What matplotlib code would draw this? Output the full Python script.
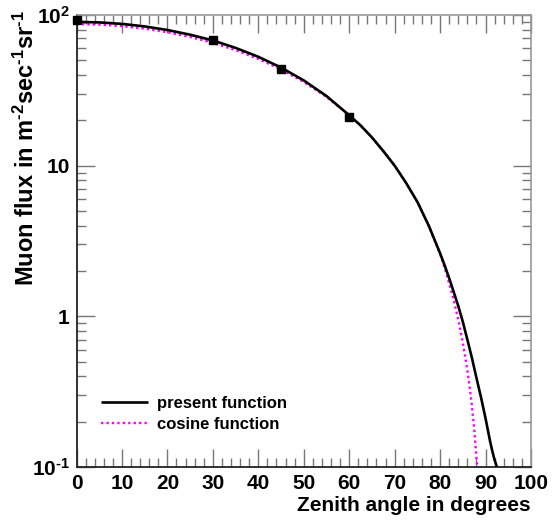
import matplotlib
matplotlib.use("Agg")
import matplotlib.pyplot as plt
from matplotlib.ticker import FixedLocator, NullFormatter, MultipleLocator

plt.rcParams["font.family"] = ["Liberation Sans", "DejaVu Sans"]
plt.rcParams["font.weight"] = "bold"
plt.rcParams["axes.labelweight"] = "bold"
plt.rcParams["mathtext.fontset"] = "custom"
plt.rcParams["mathtext.rm"] = "Liberation Sans:bold"
plt.rcParams["mathtext.it"] = "Liberation Sans:bold"
plt.rcParams["mathtext.bf"] = "Liberation Sans:bold"

# Zenith angle (degrees) and flux (m^-2 s^-1 sr^-1)
present_angle = [0, 5, 10, 15, 20, 25, 30, 35, 40, 45, 50, 55, 60, 62.5, 65, 67.5, 70,
                 72.5, 75, 77.5, 80, 81, 82, 83, 84, 85, 86, 87, 88, 89, 90, 91, 91.5, 92, 92.5]
present_flux = [90, 89.3, 87.3, 84, 79.5, 74, 67.8, 60.5, 52.8, 44.8, 36.8, 29, 21.6, 18.5,
                15.4, 12.5, 10.0, 7.7, 5.75, 4.0, 2.62, 2.18, 1.79, 1.45, 1.17, 0.92, 0.7,
                0.53, 0.39, 0.29, 0.21, 0.148, 0.127, 0.111, 0.1]

cosine_angle = [0, 5, 10, 15, 20, 25, 30, 35, 40, 45, 50, 55, 60, 62.5, 65, 67.5, 70,
                72.5, 75, 77.5, 80, 81, 82, 83, 84, 85, 86, 86.5, 87, 87.5, 88, 88.2]
cosine_flux = [87, 86.3, 84.4, 81.2, 76.8, 71.5, 65.3, 58.4, 51.1, 43.5, 36, 28.6, 21.6, 18.5,
               15.4, 12.5, 10.0, 7.7, 5.75, 3.98, 2.6, 2.1, 1.65, 1.28, 0.95, 0.67, 0.44,
               0.34, 0.255, 0.18, 0.115, 0.1]

meas_angle = [0, 30, 45, 60]
meas_flux = [92.5, 68, 44, 21]

x_ticks = [0, 10, 20, 30, 40, 50, 60, 70, 80, 90, 100]
y_ticks = [0.1, 1, 10, 100]
y_tick_labels = ["$10^{\u20101}$", "1", "10", "$10^{2}$"]

fig = plt.figure(figsize=(5.57, 5.2), dpi=100)
ax = fig.add_axes([76.5 / 557, 1 - 467 / 520, (531 - 76.5) / 557, (467 - 15) / 520])

ax.plot(present_angle, present_flux, color="black", lw=1.9, label="present function",
        solid_capstyle="butt", solid_joinstyle="round", zorder=3)
ax.plot(cosine_angle, cosine_flux, color="#ff00ff", lw=1.7, ls=(0, (1, 1.3)),
        label="cosine function", zorder=2)
ax.plot(meas_angle, meas_flux, ls="none", marker="s", ms=5.5, color="black",
        clip_on=False, zorder=4)

ax.set_yscale("log")
ax.set_xlim(0, 100)
ax.set_ylim(0.1, 100)

ax.xaxis.set_major_locator(FixedLocator(x_ticks))
ax.xaxis.set_minor_locator(MultipleLocator(2))
ax.set_xticklabels([str(v) for v in x_ticks])
ax.yaxis.set_major_locator(FixedLocator(y_ticks))
ax.set_yticklabels(y_tick_labels)
ax.yaxis.set_minor_locator(FixedLocator([m * 10 ** e for e in (-1, 0, 1) for m in range(2, 10)]))
ax.yaxis.set_minor_formatter(NullFormatter())

ax.tick_params(which="both", direction="in", top=True, right=True, color="#777777",
               labelsize=15, width=1)
ax.tick_params(which="major", length=13, pad=5)
ax.tick_params(which="minor", length=6.5)

for side in ("top", "right"):
    ax.spines[side].set_color("#999999")
    ax.spines[side].set_linewidth(1.2)
for side in ("left", "bottom"):
    ax.spines[side].set_color("#222222")
    ax.spines[side].set_linewidth(1.3)

ax.set_xlabel("Zenith angle in degrees", fontsize=15, loc="right", labelpad=2)
ax.set_ylabel("Muon flux in m$^{\u20102}$sec$^{\u20101}$sr$^{\u20101}$", fontsize=17, loc="top")
ax.yaxis.set_label_coords(-0.082, 1.011)

ax.legend(loc="lower left", bbox_to_anchor=(0.04, 0.062), frameon=False, fontsize=12,
          handlelength=2.8, handletextpad=0.55, labelspacing=0.4, borderaxespad=0)

fig.savefig("out.png", dpi=100)
